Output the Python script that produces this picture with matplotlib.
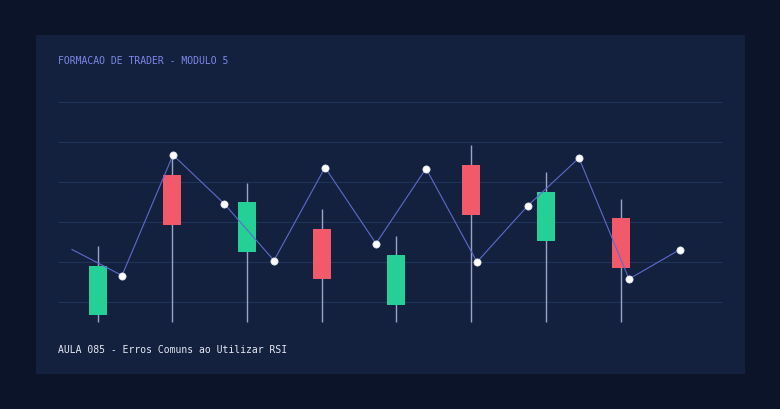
import matplotlib
matplotlib.use("Agg")
import matplotlib.pyplot as plt
import numpy as np

# candle data (x position, open, close, high, low)
candle_x = [98, 172, 247, 322, 396, 471, 546, 621]
opens = [-13.5, 126.5, 50, 73, -3, 137, 60.5, 83.5]
closes = [36, 76.5, 100, 23, 46.5, 87, 110, 34]
highs = [56, 146.5, 119, 92.5, 66, 156.5, 130, 102.5]
lows = [-20, -20, -20, -20, -20, -20, -20, -20]

# overlay line
line_x = [72, 122, 173, 224, 274, 325, 376, 426, 477, 528, 579, 629, 680]
line_y = [52, 26, 146.5, 98, 41, 134, 58, 133, 39.5, 96, 143.5, 22.5, 52]

grid_levels = [0, 40, 80, 120, 160, 200]

title = "FORMACAO DE TRADER - MODULO 5"
subtitle = "AULA 085 - Erros Comuns ao Utilizar RSI"

bg = "#0b1429"
panel = "#13213f"
green = "#25d096"
red = "#f25a6b"

W, H = 780, 410
fig = plt.figure(figsize=(7.8, 4.1), dpi=100, facecolor=bg)

# panel axes: pixel box 36..745 x 36..375
ax = fig.add_axes([36 / W, (H - 375) / H, (745 - 36) / W, (375 - 36) / H])
ax.set_facecolor(panel)
ax.set_xlim(36, 745)
ax.set_ylim(302.5 - 375, 302.5 - 36)
for s in ax.spines.values():
    s.set_visible(False)
ax.set_xticks([])
ax.set_yticks([])

ax.hlines(grid_levels, 58, 722, color="#22335a", lw=0.8, zorder=1)

# wicks
ax.vlines(candle_x, lows, highs, color="#9aa4c4", lw=1, zorder=2)

# bodies
for x, o, c in zip(candle_x, opens, closes):
    col = green if c >= o else red
    ax.bar(x, abs(c - o), width=18, bottom=min(o, c), color=col, zorder=3)

# line with dots (first point has no marker)
ax.plot(line_x, line_y, color="#5d6bcc", lw=0.8, zorder=4)
ax.plot(line_x[1:], line_y[1:], "o", color="white", ms=5.2,
        markeredgecolor="#dfe3ee", markeredgewidth=0.5, zorder=5)

fig.text(58 / W, 1 - 60.5 / H, title, color="#7c88ea", fontsize=7.0,
         family="DejaVu Sans Mono", va="center", ha="left")
fig.text(58 / W, 1 - 350.5 / H, subtitle, color="#e6e9f2", fontsize=7.0,
         family="DejaVu Sans Mono", va="center", ha="left")

fig.savefig("out.png", dpi=100, facecolor=bg)
